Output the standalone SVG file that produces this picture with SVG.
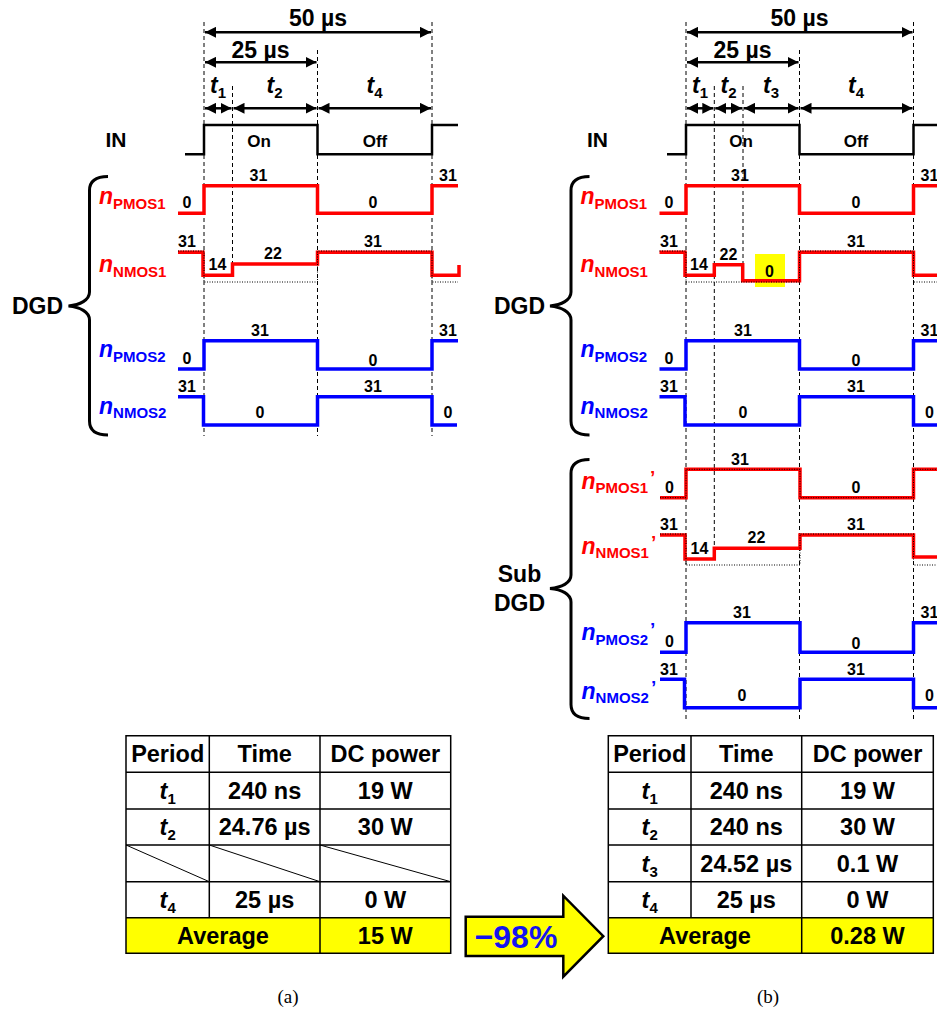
<svg xmlns="http://www.w3.org/2000/svg" width="937" height="1011" viewBox="0 0 937 1011">
<style>
.w{fill:none;stroke-width:3.5}
.red{stroke:#ff0000}
.blue{stroke:#0000ff}
.in{fill:none;stroke:#000;stroke-width:2.5}
.dash{stroke:#000;stroke-width:1;stroke-dasharray:4 3}
.dot{fill:none;stroke:#000;stroke-width:1;stroke-dasharray:1 1.5}
.dim{stroke:#000;stroke-width:2.5;marker-start:url(#ah);marker-end:url(#ah)}
.brace{fill:none;stroke:#000;stroke-width:3}
text{font-family:"Liberation Sans",Arial,sans-serif;font-weight:bold;fill:#000}
.v{font-size:16px;text-anchor:middle}
.big{font-size:23px;text-anchor:middle}
.tb{font-size:23.5px;text-anchor:middle}
.it{font-style:italic}
.sub{font-size:15px;font-style:normal}
.ni{font-size:23px;font-style:italic}
.nl{font-size:15px}
.ap{font-size:19px}
.rt{fill:#ff0000}
.bt{fill:#0000ff}
.lab{font-size:23px}
.onoff{font-size:17px;text-anchor:middle}
.tl{stroke:#000;stroke-width:1.5;fill:none}
.diag{stroke:#000;stroke-width:1}
.cap{font-family:"Liberation Serif","Times New Roman",serif;font-weight:normal;font-size:19px;text-anchor:middle}
</style>
<defs>
<marker id="ah" markerUnits="userSpaceOnUse" markerWidth="11" markerHeight="11" refX="10" refY="5" orient="auto-start-reverse" viewBox="0 0 10 10">
<path d="M0,0 L10,5 L0,10 z" fill="#000"/>
</marker>
</defs>
<rect width="937" height="1011" fill="#fff"/>

<g id="connectors">
<line class="dash" x1="204" y1="22" x2="204" y2="436"/>
<line class="dash" x1="232.5" y1="86" x2="232.5" y2="264"/>
<line class="dash" x1="317.5" y1="50" x2="317.5" y2="436"/>
<line class="dash" x1="432" y1="22" x2="432" y2="436"/>
<line class="dash" x1="686" y1="22" x2="686" y2="720"/>
<line class="dash" x1="714.3" y1="86" x2="714.3" y2="548"/>
<line class="dash" x1="743" y1="86" x2="743" y2="265"/>
<line class="dash" x1="799.5" y1="50" x2="799.5" y2="720"/>
<line class="dash" x1="913.5" y1="22" x2="913.5" y2="720"/>
<line class="dim" x1="205" y1="32.3" x2="431" y2="32.3"/>
<line class="dim" x1="205" y1="62.3" x2="316.5" y2="62.3"/>
<line class="dim" x1="205" y1="108.3" x2="231.5" y2="108.3"/>
<line class="dim" x1="233.5" y1="108.3" x2="316.5" y2="108.3"/>
<line class="dim" x1="318.5" y1="108.3" x2="431" y2="108.3"/>
<line class="dim" x1="687" y1="32.3" x2="912.5" y2="32.3"/>
<line class="dim" x1="687" y1="62.3" x2="798.5" y2="62.3"/>
<line class="dim" x1="687" y1="108.3" x2="713.3" y2="108.3"/>
<line class="dim" x1="715.3" y1="108.3" x2="742" y2="108.3"/>
<line class="dim" x1="744" y1="108.3" x2="798.5" y2="108.3"/>
<line class="dim" x1="800.5" y1="108.3" x2="912.5" y2="108.3"/>
</g>

<g id="timing-a">
<text class="big" x="318" y="26">50 µs</text>
<text class="big" x="260.5" y="58">25 µs</text>
<text class="big" x="218" y="93"><tspan class="it">t</tspan><tspan class="sub" dy="5">1</tspan></text>
<text class="big" x="274.5" y="93"><tspan class="it">t</tspan><tspan class="sub" dy="5">2</tspan></text>
<text class="big" x="374.5" y="93"><tspan class="it">t</tspan><tspan class="sub" dy="5">4</tspan></text>
</g>
<g id="timing-b">
<text class="big" x="799.5" y="26">50 µs</text>
<text class="big" x="742.5" y="58">25 µs</text>
<text class="big" x="700" y="93"><tspan class="it">t</tspan><tspan class="sub" dy="5">1</tspan></text>
<text class="big" x="728.5" y="93"><tspan class="it">t</tspan><tspan class="sub" dy="5">2</tspan></text>
<text class="big" x="771" y="93"><tspan class="it">t</tspan><tspan class="sub" dy="5">3</tspan></text>
<text class="big" x="856" y="93"><tspan class="it">t</tspan><tspan class="sub" dy="5">4</tspan></text>
</g>

<g id="in-a">
<text x="116" y="146.5" style="font-size:21px;text-anchor:middle">IN</text>
<path class="in" d="M185,154.3 H204 V125 H317.5 V154.3 H432 V125 H458"/>
<text class="onoff" x="259" y="147">On</text>
<text class="onoff" x="375" y="147">Off</text>
</g>
<g id="in-b">
<text x="597.5" y="146.5" style="font-size:21px;text-anchor:middle">IN</text>
<path class="in" d="M667,154.3 H686 V125 H799.5 V154.3 H913.5 V125 H940"/>
<text class="onoff" x="741" y="147">On</text>
<text class="onoff" x="856" y="147">Off</text>
</g>

<g id="dgd-a">
<path class="brace" d="M108,176.5 C97,176.5 89.5,180.5 89.5,190.5 V292 C89.5,300 80,305 68.5,306 C80,307 89.5,312 89.5,320 V421 C89.5,431 97,435 108,435"/>
<text class="lab" x="63" y="314" text-anchor="end">DGD</text>
</g>
<g id="dgd-b">
<path class="brace" d="M589.5,176.5 C578.5,176.5 571,180.5 571,190.5 V292 C571,300 561.5,305 550,306 C561.5,307 571,312 571,320 V421 C571,431 578.5,435 589.5,435"/>
<text class="lab" x="545" y="314" text-anchor="end">DGD</text>
</g>
<g id="subdgd-b">
<path class="brace" d="M589.5,459.5 C578.5,459.5 571,463.5 571,473.5 V575 C571,583 561.5,587.5 550,588.5 C561.5,589.5 571,594 571,602 V704.5 C571,714.5 578.5,718.5 589.5,718.5"/>
<text class="lab" x="519.5" y="582" text-anchor="middle">Sub</text>
<text class="lab" x="519.5" y="611" text-anchor="middle">DGD</text>
</g>

<g id="npmos1-a">
<text class="rt" x="99" y="204"><tspan class="ni">n</tspan><tspan class="nl" dy="4.5">PMOS1</tspan></text>
<path class="w red" d="M178,213.3 H204 V185.7 H317.5 V213.3 H432 V185.7 H458"/>
<text class="v" x="187" y="208">0</text>
<text class="v" x="258.5" y="181">31</text>
<text class="v" x="373" y="208">0</text>
<text class="v" x="448" y="181">31</text>
</g>
<g id="nnmos1-a">
<text class="rt" x="99" y="272"><tspan class="ni">n</tspan><tspan class="nl" dy="4.5">NMOS1</tspan></text>
<path class="w red" d="M178,252.3 H203 V275.3 H232.5 V264 H317.5 V252.3 H432 V275.3 H459 V265"/>
<path class="dot" d="M178,251 H204 V282 H317.5 V251 H432 V282 H458"/>
<text class="v" x="187" y="247">31</text>
<text class="v" x="217.5" y="270">14</text>
<text class="v" x="273" y="258.5">22</text>
<text class="v" x="373" y="247">31</text>
</g>
<g id="npmos2-a">
<text class="bt" x="99" y="357"><tspan class="ni">n</tspan><tspan class="nl" dy="4.5">PMOS2</tspan></text>
<path class="w blue" d="M178,369 H204 V340.7 H317.5 V369 H432 V340.7 H458"/>
<text class="v" x="187" y="364">0</text>
<text class="v" x="260" y="335.5">31</text>
<text class="v" x="373" y="366">0</text>
<text class="v" x="448" y="335.5">31</text>
</g>
<g id="nnmos2-a">
<text class="bt" x="99" y="413.5"><tspan class="ni">n</tspan><tspan class="nl" dy="4.5">NMOS2</tspan></text>
<path class="w blue" d="M178,396.7 H203.5 V425 H317.5 V396.7 H432 V425 H457"/>
<text class="v" x="187" y="391.5">31</text>
<text class="v" x="260" y="418">0</text>
<text class="v" x="373" y="391.5">31</text>
<text class="v" x="448" y="418">0</text>
</g>

<g id="npmos1-b">
<text class="rt" x="580.5" y="204"><tspan class="ni">n</tspan><tspan class="nl" dy="4.5">PMOS1</tspan></text>
<path class="w red" d="M659.5,213.3 H686 V185.7 H799.5 V213.3 H913.5 V185.7 H940"/>
<text class="v" x="669" y="208">0</text>
<text class="v" x="740" y="181">31</text>
<text class="v" x="856" y="208">0</text>
<text class="v" x="929.5" y="181">31</text>
</g>
<g id="nnmos1-b">
<text class="rt" x="580.5" y="272"><tspan class="ni">n</tspan><tspan class="nl" dy="4.5">NMOS1</tspan></text>
<rect x="755" y="254" width="30" height="33" fill="#ffff00"/>
<path class="w red" d="M659.5,252.3 H685 V275.3 H714.3 V264.7 H742.7 V280.7 H799.5 V252.3 H913.5 V275.3 H940"/>
<path class="dot" d="M659.5,251 H686 V282 H799.5 V251 H913.5 V282 H940"/>
<text class="v" x="669" y="247">31</text>
<text class="v" x="699" y="270">14</text>
<text class="v" x="728.5" y="259.5">22</text>
<text class="v" x="769.5" y="277">0</text>
<text class="v" x="856" y="247">31</text>
</g>
<g id="npmos2-b">
<text class="bt" x="580.5" y="357"><tspan class="ni">n</tspan><tspan class="nl" dy="4.5">PMOS2</tspan></text>
<path class="w blue" d="M659.5,369 H686 V340.7 H799.5 V369 H913.5 V340.7 H940"/>
<text class="v" x="669" y="364">0</text>
<text class="v" x="743" y="335.5">31</text>
<text class="v" x="856" y="366">0</text>
<text class="v" x="929.5" y="335.5">31</text>
</g>
<g id="nnmos2-b">
<text class="bt" x="580.5" y="413.5"><tspan class="ni">n</tspan><tspan class="nl" dy="4.5">NMOS2</tspan></text>
<path class="w blue" d="M659.5,396.7 H685 V425 H799.5 V396.7 H913.5 V425 H940"/>
<text class="v" x="669" y="391.5">31</text>
<text class="v" x="743" y="418">0</text>
<text class="v" x="856" y="391.5">31</text>
<text class="v" x="929.5" y="418">0</text>
</g>

<g id="npmos1p-b">
<text class="rt" x="581.5" y="488.5"><tspan class="ni">n</tspan><tspan class="nl" dy="4">PMOS1</tspan><tspan class="ap" dx="2" dy="-9">’</tspan></text>
<path class="w red" d="M660,497.7 H686 V469.3 H800 V497.7 H913.5 V469.3 H940"/>
<path class="dot" d="M660,497.7 H686 V469.3 H800 V497.7 H913.5 V469.3 H940"/>
<text class="v" x="669.5" y="493">0</text>
<text class="v" x="740" y="465">31</text>
<text class="v" x="856" y="493">0</text>
</g>
<g id="nnmos1p-b">
<text class="rt" x="581.5" y="553.5"><tspan class="ni">n</tspan><tspan class="nl" dy="4.5">NMOS1</tspan><tspan class="ap" dx="2" dy="-9">’</tspan></text>
<path class="w red" d="M660,535 H685 V559 H714.3 V548.3 H800 V535 H913.5 V557 H940"/>
<path class="dot" d="M660,534 H686 V565 H800 V534 H913.5 V565 H940"/>
<text class="v" x="669" y="530">31</text>
<text class="v" x="699.5" y="553.5">14</text>
<text class="v" x="756.5" y="542.5">22</text>
<text class="v" x="856" y="530">31</text>
</g>
<g id="npmos2p-b">
<text class="bt" x="581.5" y="640"><tspan class="ni">n</tspan><tspan class="nl" dy="4.5">PMOS2</tspan><tspan class="ap" dx="2" dy="-9">’</tspan></text>
<path class="w blue" d="M660,652.3 H686 V622.7 H800 V652.3 H913.5 V622.7 H940"/>
<text class="v" x="669.5" y="647">0</text>
<text class="v" x="742" y="618">31</text>
<text class="v" x="856" y="648.5">0</text>
<text class="v" x="929.5" y="618">31</text>
</g>
<g id="nnmos2p-b">
<text class="bt" x="581.5" y="698.5"><tspan class="ni">n</tspan><tspan class="nl" dy="4.5">NMOS2</tspan><tspan class="ap" dx="2" dy="-9">’</tspan></text>
<path class="w blue" d="M660,679.3 H684.5 V707.7 H800 V679.3 H913.5 V707.7 H940"/>
<text class="v" x="669" y="674.5">31</text>
<text class="v" x="742" y="701">0</text>
<text class="v" x="856" y="674.5">31</text>
<text class="v" x="929.5" y="701">0</text>
</g>

<g id="table-a">
<rect x="126" y="735.7" width="324.7" height="217.6" fill="#fff"/>
<rect x="126" y="917.7" width="324.7" height="35.6" fill="#ffff00"/>
<line class="diag" x1="126" y1="845" x2="209.3" y2="881.7"/>
<line class="diag" x1="209.3" y1="845" x2="320" y2="881.7"/>
<line class="diag" x1="320" y1="845" x2="450.7" y2="881.7"/>
<path class="tl" d="M126,735.7 H450.7 V953.3 H126 Z M126,772.3 H450.7 M126,809 H450.7 M126,845 H450.7 M126,881.7 H450.7 M126,917.7 H450.7 M209.3,735.7 V917.7 M320,735.7 V953.3"/>
<text class="tb" x="167.7" y="762">Period</text>
<text class="tb" x="264.7" y="762">Time</text>
<text class="tb" x="385.3" y="762">DC power</text>
<text class="tb" x="167.7" y="798.5"><tspan class="it">t</tspan><tspan class="sub" dy="5">1</tspan></text>
<text class="tb" x="264.7" y="798.5">240 ns</text>
<text class="tb" x="385.3" y="798.5">19 W</text>
<text class="tb" x="167.7" y="835"><tspan class="it">t</tspan><tspan class="sub" dy="5">2</tspan></text>
<text class="tb" x="264.7" y="835">24.76 µs</text>
<text class="tb" x="385.3" y="835">30 W</text>
<text class="tb" x="167.7" y="907.5"><tspan class="it">t</tspan><tspan class="sub" dy="5">4</tspan></text>
<text class="tb" x="264.7" y="907.5">25 µs</text>
<text class="tb" x="385.3" y="907.5">0 W</text>
<text class="tb" x="223" y="943.5">Average</text>
<text class="tb" x="385.3" y="943.5">15 W</text>
</g>

<g id="reduction-arrow">
<polygon points="465.7,916.7 563.3,916.7 563.3,895.7 603.3,936.2 563.3,976.7 563.3,956 465.7,956" fill="#ffff00" stroke="#000" stroke-width="2.5"/>
<text x="516" y="948" style="font-size:32px;text-anchor:middle;fill:#1515ee">−98%</text>
</g>

<g id="table-b">
<rect x="608.3" y="735.7" width="325" height="217.6" fill="#fff"/>
<rect x="608.3" y="917.7" width="325" height="35.6" fill="#ffff00"/>
<path class="tl" d="M608.3,735.7 H933.3 V953.3 H608.3 Z M608.3,772.3 H933.3 M608.3,809 H933.3 M608.3,845 H933.3 M608.3,881.7 H933.3 M608.3,917.7 H933.3 M691,735.7 V917.7 M801.7,735.7 V953.3"/>
<text class="tb" x="649.7" y="762">Period</text>
<text class="tb" x="746.3" y="762">Time</text>
<text class="tb" x="867.5" y="762">DC power</text>
<text class="tb" x="649.7" y="798.5"><tspan class="it">t</tspan><tspan class="sub" dy="5">1</tspan></text>
<text class="tb" x="746.3" y="798.5">240 ns</text>
<text class="tb" x="867.5" y="798.5">19 W</text>
<text class="tb" x="649.7" y="835"><tspan class="it">t</tspan><tspan class="sub" dy="5">2</tspan></text>
<text class="tb" x="746.3" y="835">240 ns</text>
<text class="tb" x="867.5" y="835">30 W</text>
<text class="tb" x="649.7" y="871.5"><tspan class="it">t</tspan><tspan class="sub" dy="5">3</tspan></text>
<text class="tb" x="746.3" y="871.5">24.52 µs</text>
<text class="tb" x="867.5" y="871.5">0.1 W</text>
<text class="tb" x="649.7" y="907.5"><tspan class="it">t</tspan><tspan class="sub" dy="5">4</tspan></text>
<text class="tb" x="746.3" y="907.5">25 µs</text>
<text class="tb" x="867.5" y="907.5">0 W</text>
<text class="tb" x="705" y="943.5">Average</text>
<text class="tb" x="867.5" y="943.5">0.28 W</text>
</g>

<g id="captions">
<text class="cap" x="288" y="1003">(a)</text>
<text class="cap" x="768" y="1003">(b)</text>
</g>
</svg>
